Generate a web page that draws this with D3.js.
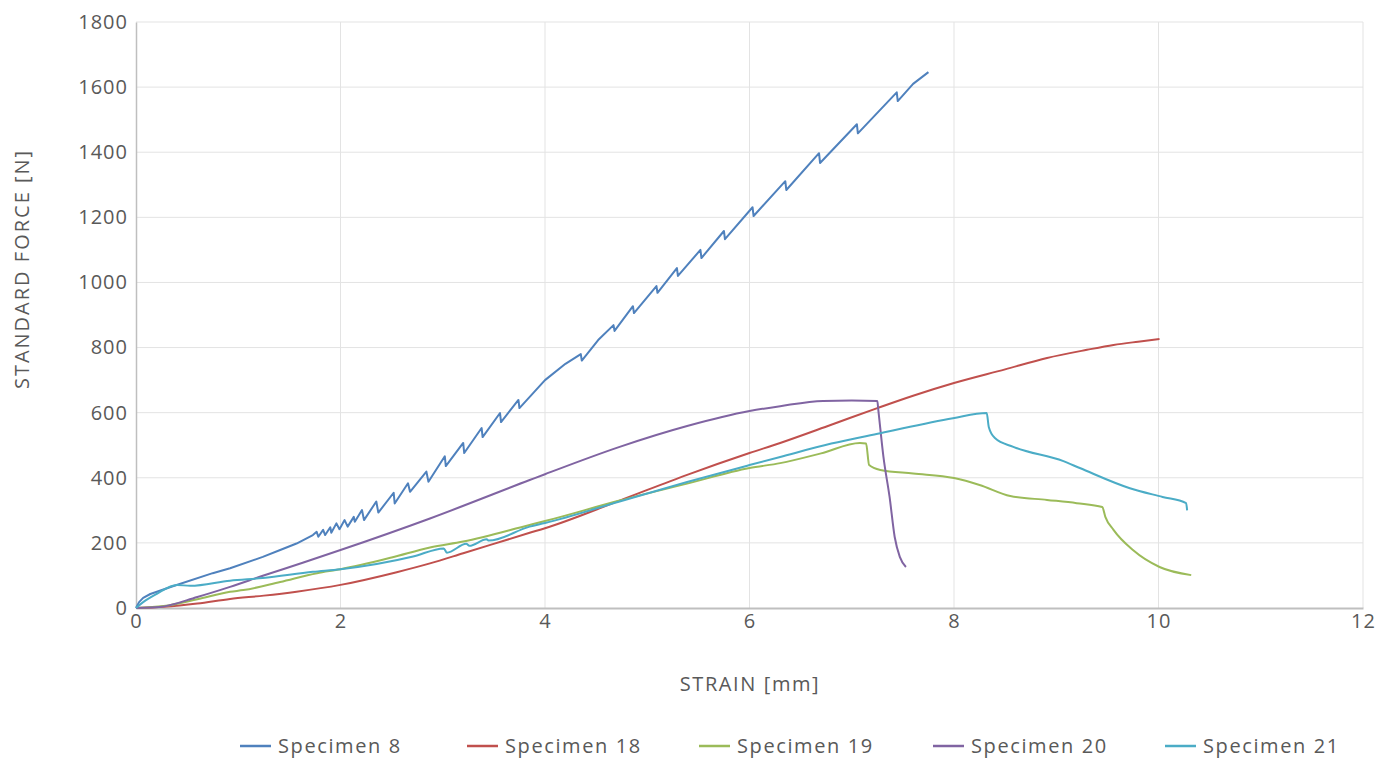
<!DOCTYPE html>
<meta charset="utf-8">
<script src="https://d3js.org/d3.v7.min.js"></script>
<style>
  body { margin: 0; background: #fff; overflow: hidden; }
  svg { display: block; }
  text { font-family: "Century Gothic", "Open Sans", "DejaVu Sans", sans-serif; fill: #595959; }
</style>
<div id="chart"></div>
<script>

  // series names and colours
  const names = ["Specimen 8", "Specimen 18", "Specimen 19", "Specimen 20", "Specimen 21"];
  const colors = ["#4f81bd", "#c0504d", "#9bbb59", "#8064a2", "#4bacc6"];

  // [strain mm, force N]
  const spec8 = [
    [0, 0], [0.03, 18], [0.07, 31], [0.14, 43], [0.36, 67], [0.75, 107], [0.92, 122], [1.24, 157], [1.41, 178],
    [1.57, 198], [1.73, 224],
    [1.767, 234], [1.783, 219], [1.83, 240], [1.85, 224], [1.90, 248], [1.91, 231], [1.96, 260], [1.99, 242],
    [2.04, 270], [2.07, 250], [2.13, 280], [2.14, 265], [2.21, 301], [2.23, 270],
    [2.35, 327], [2.37, 293], [2.52, 354], [2.53, 321], [2.66, 383], [2.68, 357], [2.84, 419], [2.86, 388],
    [3.02, 466], [3.03, 436], [3.2, 507], [3.21, 476], [3.38, 553], [3.39, 525], [3.56, 599], [3.57, 571],
    [3.74, 639], [3.75, 614], [4.0, 700], [4.2, 750], [4.35, 780], [4.36, 760], [4.52, 823],
    [4.67, 869], [4.68, 851], [4.86, 927], [4.87, 906], [5.09, 989], [5.1, 968], [5.29, 1044], [5.3, 1020],
    [5.52, 1100], [5.53, 1075], [5.75, 1158], [5.76, 1133], [6.03, 1231], [6.04, 1204], [6.35, 1311], [6.36, 1284],
    [6.68, 1397], [6.69, 1367], [7.05, 1486], [7.06, 1458], [7.44, 1584], [7.45, 1557], [7.6, 1610], [7.75, 1646]
  ];
  const spec18 = [
    [0, 0], [0.27, 4], [0.6, 14], [0.92, 28], [1.25, 38], [1.57, 50], [2.0, 71], [2.55, 110], [2.875, 137],
    [3.2, 168], [3.85, 231], [4.0, 245], [4.73, 330], [5.39, 409], [6.0, 476], [6.3, 507], [6.8, 563], [7.25, 614],
    [7.6, 652], [8.0, 691], [8.5, 733], [8.91, 768], [9.3, 793], [9.56, 808], [9.8, 818], [10.01, 826]
  ];
  const spec19 = [
    [0, 0], [0.27, 6], [0.6, 27], [0.92, 50], [1.05, 55], [1.41, 80], [1.77, 107], [2.0, 119], [2.5, 155],
    [2.875, 186], [3.2, 204], [3.85, 255], [4.0, 267], [4.73, 330], [5.39, 382], [6.0, 430], [6.3, 445],
    [6.7, 475], [7.08, 507], [7.14, 505], [7.17, 439], [7.28, 424], [7.6, 413], [8.0, 399], [8.25, 378],
    [8.55, 344], [8.91, 332], [9.2, 322], [9.45, 310], [9.48, 280], [9.56, 240], [9.75, 178], [10.01, 126], [10.32, 101]
  ];
  const spec20 = [
    [0, 0], [0.23, 3], [0.6, 34], [0.92, 65], [1.24, 99], [1.63, 139], [2.0, 178], [2.875, 275], [3.85, 393],
    [4.0, 411], [4.73, 495], [5.39, 559], [6.0, 605], [6.3, 620], [6.72, 636], [7.0, 637], [7.25, 636],
    [7.26, 608], [7.31, 464], [7.37, 341], [7.42, 218], [7.47, 157], [7.53, 126]
  ];
  const spec21 = [
    [0, 0], [0.07, 18], [0.2, 43], [0.4, 71], [0.53, 68], [0.92, 84], [1.24, 92], [1.73, 111], [2.0, 119],
    [2.71, 158], [3.01, 183], [3.04, 170], [3.23, 197], [3.26, 191], [3.43, 211], [3.45, 207], [3.85, 250],
    [4.0, 261], [4.73, 327], [5.39, 387], [6.0, 439], [6.3, 464], [6.8, 505], [7.28, 537], [7.99, 583], [8.32, 599],
    [8.34, 556], [8.4, 522], [8.58, 495], [9.07, 451], [9.23, 430], [9.72, 368], [10.04, 341], [10.27, 322], [10.28, 300]
  ];
  const allSeries = [spec8, spec18, spec19, spec20, spec21];

  const xTicks = [0, 2, 4, 6, 8, 10, 12];
  const yTicks = [0, 200, 400, 600, 800, 1000, 1200, 1400, 1600, 1800];

  const W = 1394, H = 758;
  const margin = { top: 22, right: 31, bottom: 150, left: 136 };
  const width = W - margin.left - margin.right,
    height = H - margin.top - margin.bottom;

  const svg = d3.select("#chart").append("svg")
    .attr("width", W).attr("height", H);
  const g = svg.append("g")
    .attr("transform", `translate(${margin.left},${margin.top})`);

  const x = d3.scaleLinear().domain([0, 12]).range([0, width]);
  const y = d3.scaleLinear().domain([0, 1800]).range([height, 0]);

  // grid
  g.append("g").selectAll("line").data(yTicks.slice(1)).join("line")
    .attr("x1", 0).attr("x2", width)
    .attr("y1", d => y(d)).attr("y2", d => y(d))
    .attr("stroke", "#e3e3e3").attr("stroke-width", 1);
  g.append("g").selectAll("line").data(xTicks.slice(1)).join("line")
    .attr("x1", d => x(d)).attr("x2", d => x(d))
    .attr("y1", 0).attr("y2", height)
    .attr("stroke", "#e3e3e3").attr("stroke-width", 1);

  // axes
  const xAxis = g.append("g")
    .attr("transform", `translate(0,${height})`)
    .call(d3.axisBottom(x).tickValues(xTicks).tickFormat(d3.format("d")).tickSize(0).tickPadding(6));
  xAxis.select(".domain").attr("stroke", "#bfbfbf").attr("stroke-width", 2);
  xAxis.selectAll("text").style("font-size", "20px").style("letter-spacing", "1px").attr("fill", "#595959");

  const yAxis = g.append("g")
    .call(d3.axisLeft(y).tickValues(yTicks).tickFormat(d3.format("d")).tickSize(0).tickPadding(8));
  yAxis.select(".domain").attr("stroke", "#bfbfbf").attr("stroke-width", 1.5);
  yAxis.selectAll("text").style("font-size", "20px").style("letter-spacing", "1px").attr("fill", "#595959");

  // lines: the jagged specimen stays straight-segmented, others smoothed
  const lineSharp = d3.line().x(d => x(d[0])).y(d => y(d[1]));
  const lineSmooth = d3.line().curve(d3.curveMonotoneX).x(d => x(d[0])).y(d => y(d[1]));
  g.append("g").selectAll("path").data(allSeries).join("path")
    .attr("fill", "none")
    .attr("stroke", (d, i) => colors[i])
    .attr("stroke-width", 2)
    .attr("stroke-linejoin", "round")
    .attr("d", (d, i) => i === 0 ? lineSharp(d) : lineSmooth(d));

  // axis titles
  svg.append("text")
    .attr("x", 750)
    .attr("y", 691)
    .attr("text-anchor", "middle")
    .style("font-size", "20px")
    .style("letter-spacing", "1.6px")
    .text("STRAIN [mm]");

  svg.append("text")
    .attr("transform", "translate(29,269) rotate(-90)")
    .attr("text-anchor", "middle")
    .style("font-size", "20px")
    .style("letter-spacing", "2px")
    .text("STANDARD FORCE [N]");

  // legend
  const legendX = [240, 467, 699, 933, 1165];
  const leg = svg.append("g").selectAll("g").data(names).join("g")
    .attr("transform", (d, i) => `translate(${legendX[i]},746)`);
  leg.append("line")
    .attr("x1", 0).attr("x2", 31).attr("y1", 0).attr("y2", 0)
    .attr("stroke", (d, i) => colors[i]).attr("stroke-width", 2.5);
  leg.append("text")
    .attr("x", 38).attr("y", 7)
    .style("font-size", "20px")
    .style("letter-spacing", "1.6px")
    .text(d => d);

</script>
